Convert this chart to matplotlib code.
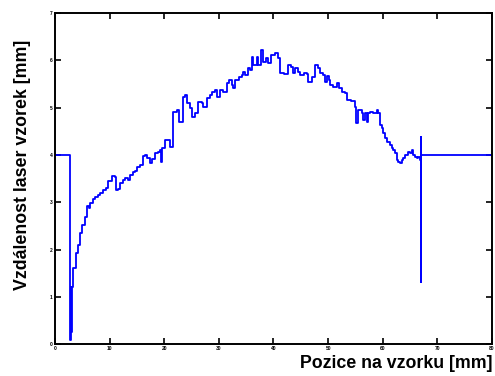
import matplotlib
matplotlib.use("Agg")
import matplotlib.pyplot as plt

# Laser distance profile along the sample
pozice = [
    0.00, 2.65, 2.75, 2.93, 3.02, 3.20, 3.30, 3.84, 3.84, 4.21,
    4.58, 4.94, 5.49, 5.86, 6.22, 6.41, 6.96, 7.32, 7.87, 8.24,
    8.79, 9.34, 9.70, 10.43, 10.98, 11.17, 11.53, 11.90, 12.45, 12.81,
    13.36, 13.73, 14.28, 14.65, 15.01, 15.56, 16.11, 16.48, 16.84, 17.39,
    17.76, 18.31, 18.86, 19.22, 19.41, 19.59, 20.14, 20.69, 21.05, 21.42,
    21.60, 21.97, 22.33, 22.70, 23.43, 23.80, 24.16, 24.71, 25.08, 25.63,
    26.18, 26.91, 27.09, 27.83, 28.38, 28.74, 29.29, 29.66, 30.21, 30.76,
    31.49, 31.85, 32.40, 32.59, 32.95, 33.68, 34.23, 34.42, 34.78, 35.33,
    35.70, 36.06, 36.25, 36.98, 37.16, 37.71, 38.08, 38.63, 38.99, 39.54,
    40.27, 40.82, 41.19, 41.92, 42.65, 43.20, 43.57, 43.94, 44.49, 44.85,
    45.58, 46.13, 46.32, 47.05, 47.60, 48.15, 48.51, 49.06, 49.43, 49.79,
    50.16, 50.34, 50.89, 51.62, 51.99, 52.54, 53.09, 53.45, 54.19, 54.92,
    55.10, 55.47, 56.20, 56.39, 56.75, 57.12, 57.30, 57.67, 58.22, 58.95,
    59.13, 59.50, 59.86, 60.05, 60.41, 60.78, 61.33, 61.69, 61.88, 62.24,
    62.61, 62.79, 63.16, 63.53, 63.71, 64.08, 64.62, 64.99, 65.36, 65.54,
    65.91, 66.27, 66.45, 66.82, 67.00, 67.00, 67.00, 80.00,
]
vzdalenost = [
    4.00, 4.00, 0.08, 1.21, 0.25, 1.21, 1.61, 1.61, 1.92, 2.09,
    2.35, 2.52, 2.69, 2.92, 2.88, 2.98, 3.07, 3.11, 3.15, 3.19,
    3.26, 3.30, 3.45, 3.55, 3.53, 3.26, 3.28, 3.40, 3.47, 3.51,
    3.47, 3.57, 3.64, 3.66, 3.74, 3.79, 3.98, 4.00, 3.93, 3.83,
    3.91, 4.04, 4.06, 4.10, 3.85, 4.14, 4.31, 4.31, 4.17, 4.17,
    4.91, 4.91, 4.95, 4.69, 5.22, 5.27, 5.10, 4.99, 4.80, 4.88,
    5.12, 5.10, 5.01, 5.20, 5.27, 5.33, 5.37, 5.22, 5.37, 5.33,
    5.52, 5.58, 5.48, 5.41, 5.58, 5.65, 5.69, 5.75, 5.69, 5.84,
    5.79, 6.07, 5.90, 6.07, 5.90, 6.22, 5.96, 6.05, 5.94, 6.11,
    6.15, 6.05, 5.73, 5.71, 5.90, 5.86, 5.73, 5.84, 5.75, 5.69,
    5.73, 5.71, 5.54, 5.65, 5.90, 5.84, 5.73, 5.69, 5.54, 5.67,
    5.58, 5.48, 5.43, 5.52, 5.41, 5.33, 5.31, 5.16, 5.14, 5.01,
    4.67, 4.95, 4.88, 4.74, 4.88, 4.69, 4.88, 4.91, 4.88, 4.95,
    4.88, 4.63, 4.57, 4.46, 4.36, 4.27, 4.21, 4.14, 4.10, 4.04,
    3.89, 3.85, 3.83, 3.89, 3.93, 4.00, 4.06, 4.04, 4.10, 4.00,
    3.95, 3.93, 3.95, 3.89, 4.38, 1.31, 4.00, 4.00,
]

x_ticks = [0, 10, 20, 30, 40, 50, 60, 70, 80]
y_ticks = [0, 1, 2, 3, 4, 5, 6, 7]

plt.rcParams["font.family"] = ["Liberation Sans", "DejaVu Sans"]

fig = plt.figure(figsize=(4.95, 3.76), dpi=100, facecolor="white")
ax = fig.add_axes([0.111, 0.085, 0.883, 0.880])

# scanner output is quantised, so draw it as a staircase
ax.plot(pozice, vzdalenost, color="#0000ff", lw=1.3, drawstyle="steps-post")

ax.set_xlim(0, 80)
ax.set_ylim(0, 7)
ax.set_xticks(x_ticks)
ax.set_yticks(y_ticks)
ax.tick_params(direction="in", length=4, width=1.2, labelsize=3.5,
               top=True, right=True, pad=1.5)
for lbl in ax.get_xticklabels() + ax.get_yticklabels():
    lbl.set_fontweight("bold")
for s in ax.spines.values():
    s.set_linewidth(1.4)

ax.set_ylabel("Vzdálenost laser vzorek [mm]", fontsize=12.8,
              fontweight="bold")
ax.yaxis.set_label_coords(-0.055, 0.54)
ax.set_xlabel("Pozice na vzorku [mm]", fontsize=12.8, fontweight="bold",
              loc="right", labelpad=3)

fig.savefig("out.png", dpi=100, facecolor="white")
